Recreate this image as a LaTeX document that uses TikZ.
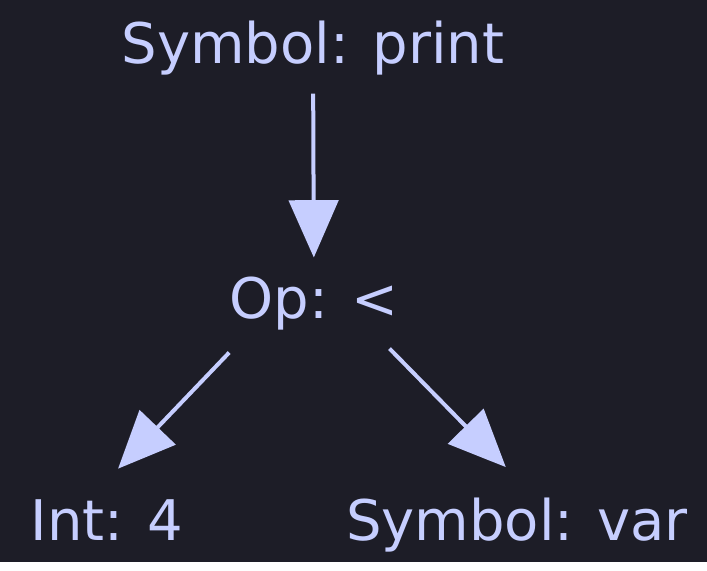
\documentclass[tikz,border=0pt]{standalone}
\usepackage{fontspec}
\setmainfont{DejaVu Sans}
\usetikzlibrary{arrows.meta}
\definecolor{bg}{RGB}{29,29,39}
\definecolor{ink}{RGB}{198,206,255}

\begin{document}
\begin{tikzpicture}[x=0.75pt, y=-0.75pt, font=\fontsize{42}{50}\selectfont,
  lbl/.style={text=ink, anchor=base, inner xsep=0pt, inner ysep=14pt},
  ar/.style={-{Triangle[length=43pt, width=37pt]}, line width=3pt, draw=ink}]
\fill[bg] (0,0) rectangle (707,562);

\node[lbl] at (313,63) (sym) {Symbol: print};
\node[lbl] at (314,318) (op) {Op: <};
\node[lbl] at (107,540) (int) {Int: 4};
\node[lbl] at (517,540) (var) {Symbol: var};

% parent to child
\draw[ar] (sym) -- (op);
\draw[ar, shorten >=12pt] ([yshift=-3pt]op.south west) -- (int.north);
\draw[ar, shorten >=12pt] ([xshift=-7pt]op.south east) -- (var.north);
\end{tikzpicture}
\end{document}
